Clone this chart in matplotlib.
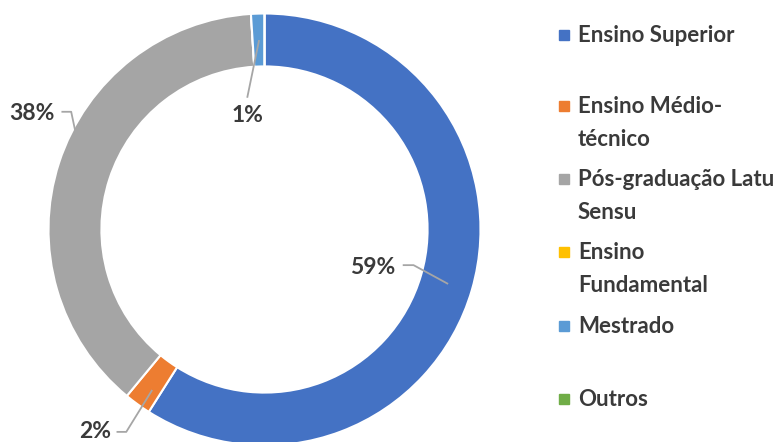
import matplotlib
matplotlib.use("Agg")
import matplotlib.pyplot as plt
import numpy as np

categories = ["Ensino Superior", "Ensino Médio-técnico", "Pós-graduação Latu Sensu",
              "Ensino Fundamental", "Mestrado", "Outros"]
legend_labels = ["Ensino Superior", "Ensino Médio-\ntécnico", "Pós-graduação Latu\nSensu",
                 "Ensino\nFundamental", "Mestrado", "Outros"]
values = [59, 2, 38, 0, 1, 0]
colors = ["#4472C4", "#ED7D31", "#A5A5A5", "#FFC000", "#5B9BD5", "#70AD47"]
pct_labels = ["59%", "2%", "38%", "", "1%", ""]

plt.rcParams['font.family'] = ['Lato', 'DejaVu Sans']
txt_color = "#3A3A3A"
W, H = 779, 442
fig = plt.figure(figsize=(W / 100, H / 100), dpi=100)

cx, cy, R = 264.5, 229.5, 216
ax = fig.add_axes([(cx - R) / W, (H - cy - R) / H, 2 * R / W, 2 * R / H])
ax.pie(values, colors=colors, startangle=90, counterclock=False, radius=1,
       wedgeprops=dict(width=0.245, edgecolor="white", linewidth=1.5))
ax.set_xlim(-1, 1)
ax.set_ylim(-1, 1)
ax.set_aspect("equal")
ax.axis("off")
for c in ax.get_children():
    c.set_clip_on(False)

# label layout: text position, leader line points (data units)
label_layout = {
    0: dict(text=(0.50, -0.178), pts=[(0.64, -0.165), (0.69, -0.165), (0.85, -0.252)]),
    1: dict(text=(-0.785, -0.937), pts=[(-0.685, -0.937), (-0.64, -0.937), (-0.52, -0.743)]),
    2: dict(text=(-1.076, 0.539), pts=[(-0.94, 0.545), (-0.895, 0.545), (-0.877, 0.46)]),
    4: dict(text=(-0.08, 0.528), pts=[(-0.08, 0.61), (-0.025, 0.877)]),
}
for i, lay in label_layout.items():
    xs, ys = zip(*lay["pts"])
    ax.plot(xs, ys, color="#A6A6A6", lw=1.3, clip_on=False, solid_capstyle="butt")
    ax.text(*lay["text"], pct_labels[i], ha="center", va="center", fontsize=16.5,
            fontweight="bold", color=txt_color)

# legend
legend_y = [35, 106, 179, 252, 326, 399]
for lab, col, y in zip(legend_labels, colors, legend_y):
    fig.patches.append(plt.Rectangle((559 / W, (H - y - 5) / H), 10 / W, 10 / H,
                                     transform=fig.transFigure, color=col, figure=fig))
    fig.text(578 / W, (H - y + 10) / H, lab, ha="left", va="top", fontsize=16,
             fontweight="bold", color=txt_color, linespacing=1.68,
             transform=fig.transFigure)

fig.savefig("out.png", dpi=100)
